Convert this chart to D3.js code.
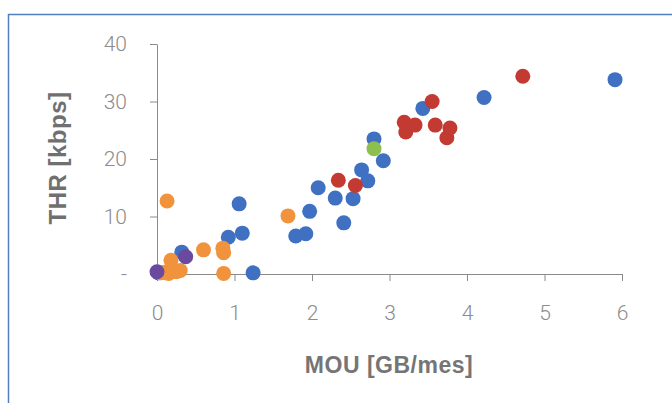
<!DOCTYPE html>
<html>
<head>
<meta charset="utf-8">
<script src="https://cdn.jsdelivr.net/npm/d3@7"></script>
<style>
  body { margin: 0; background: #fff; }
  svg { display: block; }
</style>
</head>
<body>
<svg id="chart"></svg>
<script>
// Series data (MOU in GB/mes, THR in kbps)
const mouBlue = [0.02, 0.32, 0.92, 1.06, 1.10, 1.24, 1.79, 1.92, 1.97, 2.08, 2.30, 2.41, 2.53, 2.64, 2.72, 2.80, 2.92, 3.43, 4.22, 5.91];
const thrBlue = [0.2, 3.8, 6.4, 12.2, 7.1, 0.2, 6.6, 7.0, 10.9, 15.0, 13.2, 8.9, 13.1, 18.1, 16.2, 23.5, 19.7, 28.8, 30.7, 33.8];

const mouRed = [2.34, 2.56, 3.19, 3.21, 3.33, 3.55, 3.59, 3.74, 3.78, 4.72];
const thrRed = [16.3, 15.4, 26.4, 24.7, 25.9, 30.0, 25.9, 23.7, 25.4, 34.4];

const mouGreen = [2.80];
const thrGreen = [21.8];

const mouOrange = [0.05, 0.10, 0.13, 0.15, 0.18, 0.20, 0.25, 0.30, 0.60, 0.85, 0.86, 0.86, 1.69];
const thrOrange = [0.2, 0.3, 12.7, 0.1, 2.4, 0.5, 0.4, 0.6, 4.2, 4.5, 3.7, 0.1, 10.1];

const mouPurple = [0.00, 0.37];
const thrPurple = [0.4, 3.0];

const xTickValues = [0, 1, 2, 3, 4, 5, 6];
const xTickLabels = ["0", "1", "2", "3", "4", "5", "6"];
const yTickValues = [0, 10, 20, 30, 40];
const yTickLabels = ["-", "10", "20", "30", "40"];

const series = [
    {mou: mouBlue, thr: thrBlue, color: "#3f70c2"},
    {mou: mouRed, thr: thrRed, color: "#c23a31"},
    {mou: mouGreen, thr: thrGreen, color: "#8dbf4e"},
    {mou: mouOrange, thr: thrOrange, color: "#f1933d"},
    {mou: mouPurple, thr: thrPurple, color: "#6a4a9e"}
];

const width = 672;
const height = 403;
const svg = d3.select("#chart")
    .attr("width", width)
    .attr("height", height);

// Chart frame (runs off the right and bottom edges)
svg.append("rect")
    .attr("x", 8.5)
    .attr("y", 14.5)
    .attr("width", 700)
    .attr("height", 420)
    .attr("fill", "#fff")
    .attr("stroke", "#4f81bd")
    .attr("stroke-width", 1.5);

const x = d3.scaleLinear().domain([0, 6]).range([157, 622]);
const y = d3.scaleLinear().domain([0, 40]).range([274, 44]);

const tickFont = "Roboto, 'Liberation Sans', sans-serif";
const axisColor = "#8a8a8a";

const xAxis = svg.append("g")
    .attr("transform", "translate(0,274)")
    .call(d3.axisBottom(x).tickValues(xTickValues).tickSize(7).tickSizeOuter(0).tickPadding(24)
        .tickFormat((d, i) => xTickLabels[i]));

const yAxis = svg.append("g")
    .attr("transform", "translate(157,0)")
    .call(d3.axisLeft(y).tickValues(yTickValues).tickSize(7).tickSizeOuter(0).tickPadding(23)
        .tickFormat((d, i) => yTickLabels[i]));

[xAxis, yAxis].forEach(function (g) {
    g.select(".domain").attr("stroke", axisColor);
    g.selectAll(".tick line").attr("stroke", axisColor);
    g.selectAll(".tick text")
        .attr("fill", "#8c8c8c")
        .style("font-family", tickFont)
        .style("font-weight", 300)
        .style("font-size", "21px");
});

// Points
series.forEach(function (s) {
    svg.append("g")
        .selectAll("circle")
        .data(s.mou.map((m, i) => ({mou: m, thr: s.thr[i]})))
        .join("circle")
        .attr("cx", d => x(d.mou))
        .attr("cy", d => y(d.thr))
        .attr("r", 7.5)
        .attr("fill", s.color);
});

// Axis titles
svg.append("text")
    .attr("x", 389)
    .attr("y", 373)
    .attr("text-anchor", "middle")
    .attr("fill", "#757575")
    .style("font-family", "'Liberation Sans', Arial, sans-serif")
    .style("font-weight", "bold")
    .style("font-size", "23px")
    .style("letter-spacing", "0.5px")
    .text("MOU [GB/mes]");

svg.append("text")
    .attr("transform", "translate(66,158) rotate(-90)")
    .attr("text-anchor", "middle")
    .attr("fill", "#707070")
    .style("font-family", "'Liberation Sans', Arial, sans-serif")
    .style("font-weight", "bold")
    .style("font-size", "24px")
    .style("letter-spacing", "0.5px")
    .text("THR [kbps]");
</script>
</body>
</html>
